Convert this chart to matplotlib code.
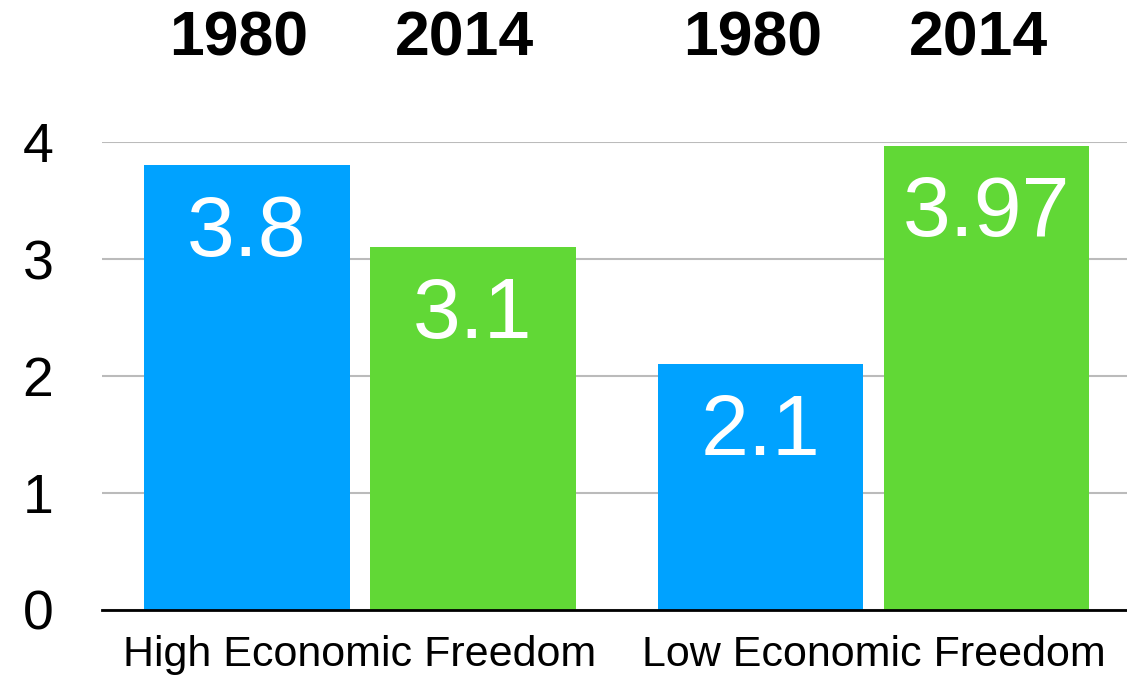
import matplotlib
matplotlib.use("Agg")
import matplotlib.pyplot as plt
import matplotlib.transforms as mtransforms
import numpy as np

plt.rcParams['font.family'] = ['Liberation Sans', 'DejaVu Sans']

groups = ["High Economic Freedom", "Low Economic Freedom"]
years = ["1980", "2014"]
vals_1980 = [3.8, 2.1]
vals_2014 = [3.1, 3.97]
labels_1980 = ["3.8", "2.1"]
labels_2014 = ["3.1", "3.97"]

blue = "#00A2FF"
green = "#61D836"

fig = plt.figure(figsize=(11.27, 6.77), dpi=100)
ax = fig.add_axes([102 / 1127, 1 - 610 / 677, 1 - 102 / 1127, (610 - 142) / 677])

x = np.arange(len(groups))
off = 0.22
w = 0.40
b1 = ax.bar(x - off, vals_1980, w, color=blue, zorder=3)
b2 = ax.bar(x + off, vals_2014, w, color=green, zorder=3)

# value labels inside the top of each bar
for bars, labs in [(b1, labels_1980), (b2, labels_2014)]:
    for b, lab in zip(bars, labs):
        ax.annotate(lab, (b.get_x() + b.get_width() / 2, b.get_height()),
                    xytext=(0, -65), textcoords="offset points",
                    ha="center", va="baseline", color="white", fontsize=62, zorder=4)

# year headers above each bar (x in data, y in figure coords), nudged a bit left
trans = mtransforms.blended_transform_factory(ax.transData, fig.transFigure)
trans = trans + mtransforms.ScaledTranslation(-8 / 100, 0, fig.dpi_scale_trans)
for i in range(len(groups)):
    for xo, yr in zip([-off, off], years):
        ax.text(i + xo, 1 - 39 / 677, yr, transform=trans, ha="center", va="center",
                fontsize=45, fontweight="bold", clip_on=False)

ax.set_xlim(-0.5024, 1.4937)
ax.set_ylim(0, 4)
ax.set_yticks([0, 1, 2, 3, 4])
ax.set_xticks(x)
ax.set_xticklabels(groups, fontsize=31)
ax.tick_params(axis="y", length=0, labelsize=40, pad=35)
ax.tick_params(axis="x", length=0, pad=18)
ax.yaxis.grid(True, color="#BBBBBB", linewidth=1.5, zorder=0)
ax.set_axisbelow(True)
for s in ["top", "right", "left"]:
    ax.spines[s].set_visible(False)
ax.spines["bottom"].set_linewidth(2)
ax.spines["bottom"].set_zorder(5)

fig.savefig("out.png", dpi=100)
